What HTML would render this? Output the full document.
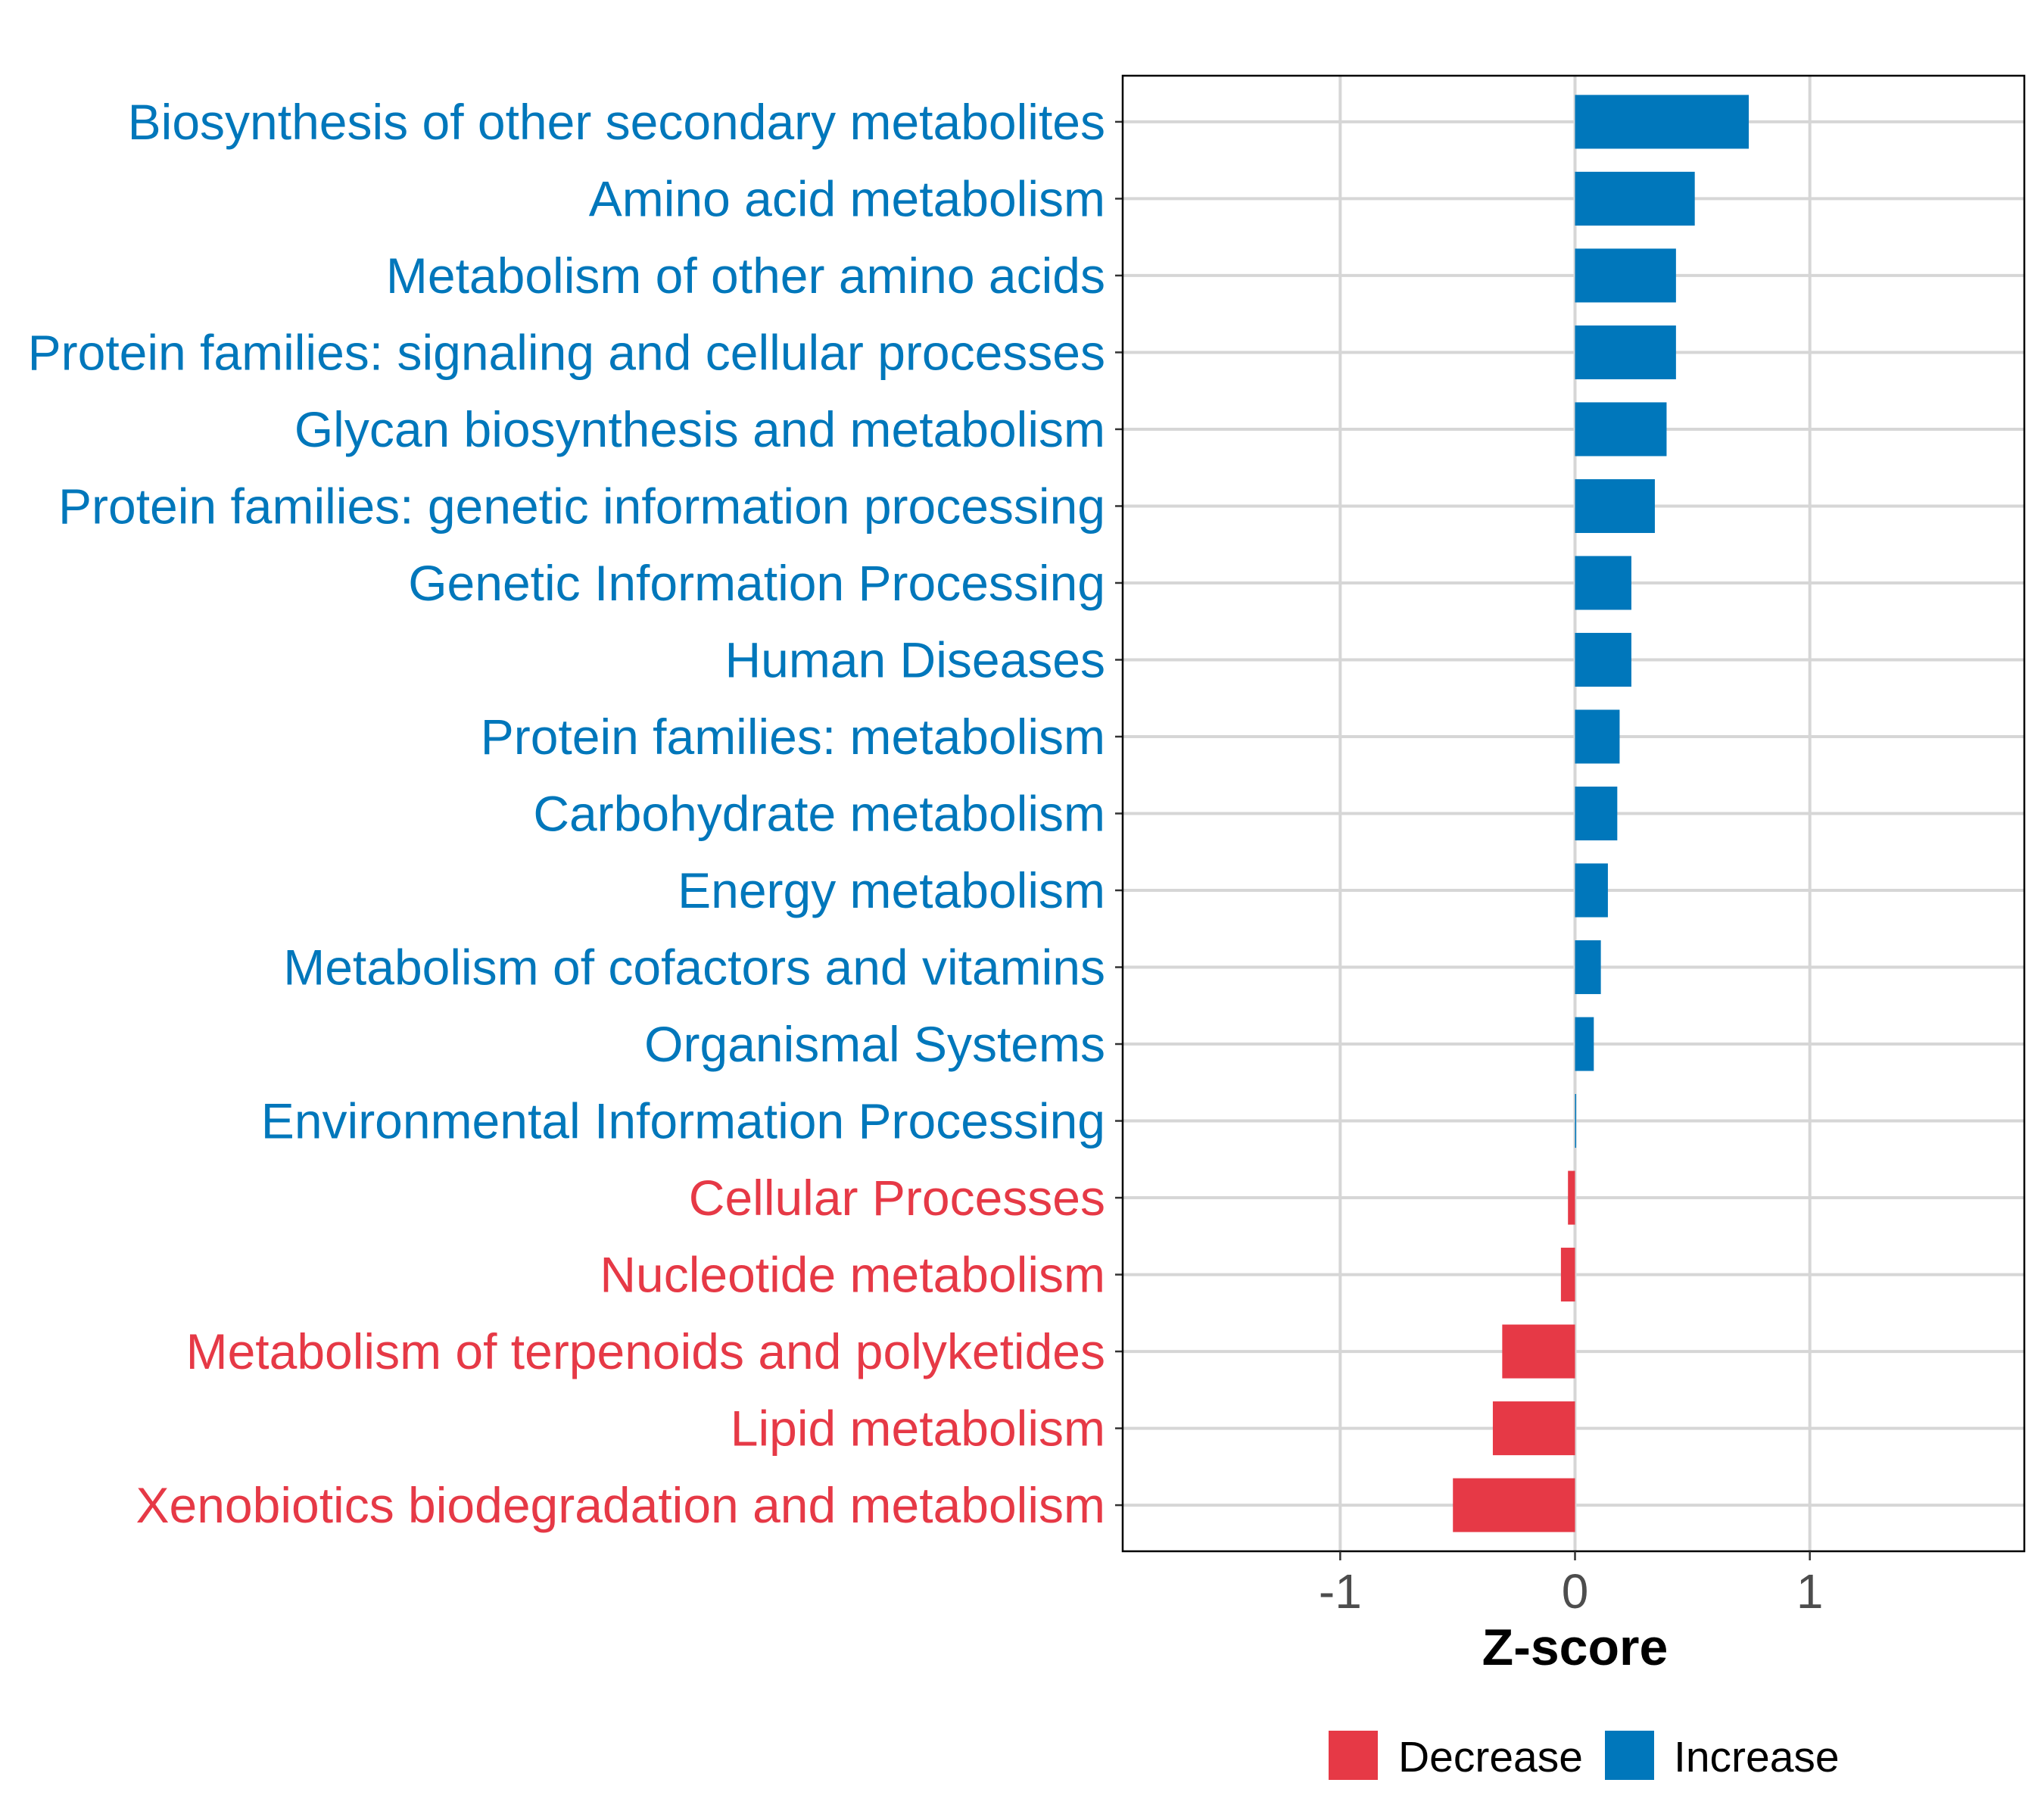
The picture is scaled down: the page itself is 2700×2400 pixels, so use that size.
<!DOCTYPE html>
<html><head><meta charset="utf-8"><style>
html,body{margin:0;padding:0;background:#fff;}
svg{display:block;font-family:"Liberation Sans",Arial,sans-serif;}
</style></head><body>
<svg id="chart" width="2700" height="2400" viewBox="0 0 2700 2400"></svg>
<script>
const categories = ["Biosynthesis of other secondary metabolites","Amino acid metabolism","Metabolism of other amino acids","Protein families: signaling and cellular processes","Glycan biosynthesis and metabolism","Protein families: genetic information processing","Genetic Information Processing","Human Diseases","Protein families: metabolism","Carbohydrate metabolism","Energy metabolism","Metabolism of cofactors and vitamins","Organismal Systems","Environmental Information Processing","Cellular Processes","Nucleotide metabolism","Metabolism of terpenoids and polyketides","Lipid metabolism","Xenobiotics biodegradation and metabolism"];
const zscores = [0.74,0.51,0.43,0.43,0.39,0.34,0.24,0.24,0.19,0.18,0.14,0.11,0.08,0.005,-0.03,-0.06,-0.31,-0.35,-0.52];
const xTicks = [-1,0,1];
const xTickLabels = ["-1","0","1"];
const legendLabels = ["Decrease","Increase"];

const NS="http://www.w3.org/2000/svg";
const svg=document.getElementById('chart');
const BLUE="#0077bb", RED="#e63946";
const L=1483,R=2674,T=100,B=2049;
const xmin=-1.92,xmax=1.92;
function xs(v){return L+2+(v-xmin)/(xmax-xmin)*(R-L);}
const n=categories.length;
const step=(B-T)/(n+0.2);
function ys(i){return T+step*0.6+i*step;}
function mk(tag,attrs,parent){const e=document.createElementNS(NS,tag);for(const k in attrs)e.setAttribute(k,attrs[k]);(parent||svg).appendChild(e);return e;}

const grid=mk('g',{});


xTicks.forEach(t=>{const l=mk('line',{x1:xs(t),x2:xs(t),y1:T,y2:B,stroke:'#d6d6d6','stroke-width':4},grid);

});
categories.forEach((c,i)=>{const l=mk('line',{x1:L,x2:R,y1:ys(i),y2:ys(i),stroke:'#d6d6d6','stroke-width':4},grid);

});

const barH=step*0.7;
zscores.forEach((v,i)=>{
  const x0=xs(0),x1=xs(v);
  const r=mk('rect',{x:Math.min(x0,x1),y:ys(i)-barH/2,width:Math.max(Math.abs(x1-x0),1.5),height:barH,fill:v>=0?BLUE:RED});
  
  
  const tk=mk('line',{x1:L-10,x2:L,y1:ys(i),y2:ys(i),stroke:'#333','stroke-width':2.5});
  
  
  const t=mk('text',{x:1460,y:ys(i)+23,'text-anchor':'end','font-size':66,fill:v>=0?BLUE:RED});
  t.textContent=categories[i];
  
  
});

const frame=mk('rect',{x:L,y:T,width:R-L,height:B-T,fill:'none',stroke:'#000','stroke-width':2.5});



xTicks.forEach((t,i)=>{
  const tk=mk('line',{x1:xs(t),x2:xs(t),y1:B,y2:B+12,stroke:'#333','stroke-width':2.5});
  
  
  const lb=mk('text',{x:xs(t),y:2124,'text-anchor':'middle','font-size':64,fill:'#4d4d4d'});
  lb.textContent=xTickLabels[i];
  
  
});

const title=mk('text',{x:xs(0),y:2199,'text-anchor':'middle','font-size':68,'font-weight':'bold',fill:'#000'});
title.textContent="Z-score";



const lg=mk('g',{});


const lx=[1755,2120], tx=[1847,2211], lc=[RED,BLUE];
legendLabels.forEach((lab,i)=>{
  const k=mk('rect',{x:lx[i],y:2286,width:65,height:65,fill:lc[i]},lg);
  
  
  const t=mk('text',{x:tx[i],y:2340,'font-size':57,fill:'#000'},lg);
  t.textContent=lab;
  
  
});
</script>
</body></html>
